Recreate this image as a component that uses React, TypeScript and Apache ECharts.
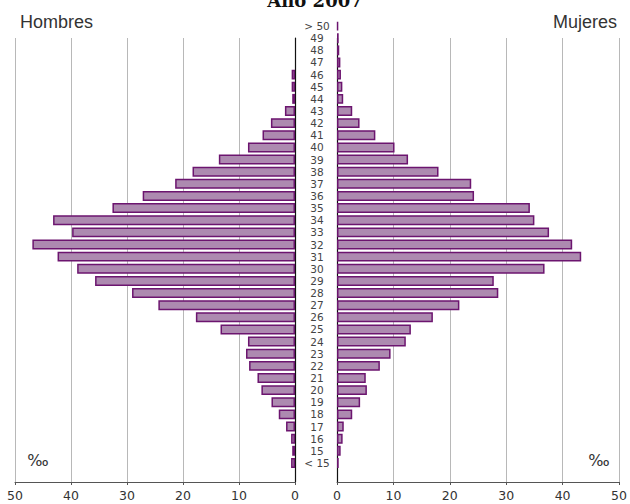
import React, { useEffect, useRef } from "react";
import * as echarts from "echarts";

const ages = ["< 15", "15", "16", "17", "18", "19", "20", "21", "22", "23", "24", "25", "26", "27", "28", "29", "30", "31", "32", "33", "34", "35", "36", "37", "38", "39", "40", "41", "42", "43", "44", "45", "46", "47", "48", "49", "> 50"];

const hombres = [0.7, 0.5, 0.7, 1.6, 2.9, 4.2, 6.0, 6.7, 8.2, 8.75, 8.4, 13.3, 17.7, 24.4, 29.1, 35.7, 38.9, 42.4, 46.9, 39.8, 43.2, 32.6, 27.2, 21.4, 18.3, 13.6, 8.4, 5.8, 4.3, 1.8, 0.5, 0.6, 0.6, null, null, null, null];

const mujeres = [0.3, 0.65, 1.0, 1.2, 2.7, 4.1, 5.3, 5.1, 7.6, 9.5, 12.2, 13.1, 17.0, 21.7, 28.6, 27.8, 36.8, 43.3, 41.7, 37.6, 35.0, 34.2, 24.3, 23.8, 18.0, 12.6, 10.2, 6.8, 4.0, 2.7, 1.1, 0.95, 0.7, 0.6, 0.4, 0.3, 0.2];

const FILL = "#ad8ab0";
const BORDER = "#6c156f";

export default function App() {
  const ref = useRef<HTMLDivElement>(null);
  useEffect(() => {
    const chart = echarts.init(ref.current!, null, { renderer: "svg" });
    const lineAxis = (gridIndex: number, inverse: boolean) => ({
      type: "value",
      gridIndex,
      min: 0,
      max: 50,
      interval: 10,
      inverse,
      axisLine: { show: true, onZero: false, lineStyle: { color: "#555", width: 1 } },
      axisTick: { show: true, length: 3, lineStyle: { color: "#555" } },
      axisLabel: { color: "#333", fontSize: 12.5, fontFamily: "DejaVu Sans", margin: 7 },
      splitLine: { show: true, lineStyle: { color: "#b8b8b8", width: 1 } },
    });
    const option: any = {
      animation: false,
      backgroundColor: "#ffffff",
      grid: [
        { left: 15, right: 335, top: 20, bottom: 35 },
        { left: 337, right: 11, top: 20, bottom: 35 },
        { left: 15, right: 335, top: 38, bottom: 22 },
        { left: 337, right: 11, top: 38, bottom: 22 },
      ],
      xAxis: [
        { type: "value", gridIndex: 0, min: 0, max: 50, inverse: true, show: false },
        { type: "value", gridIndex: 1, min: 0, max: 50, show: false },
        lineAxis(2, true),
        lineAxis(3, false),
      ],
      yAxis: [
        {
          type: "category",
          gridIndex: 0,
          data: ages,
          position: "right",
          axisLine: { show: false },
          axisTick: { show: false },
          axisLabel: { interval: 0, margin: 22, align: "center", color: "#444", fontSize: 10.5, fontFamily: "DejaVu Sans", padding: [3, 0, 0, 0] },
        },
        { type: "category", gridIndex: 1, data: ages, show: false },
        {
          type: "value",
          gridIndex: 2,
          position: "right",
          axisLine: { show: true, lineStyle: { color: "#111", width: 1.2 } },
          axisTick: { show: false },
          axisLabel: { show: false },
          splitLine: { show: false },
        },
        {
          type: "value",
          gridIndex: 3,
          position: "left",
          axisLine: { show: true, lineStyle: { color: "#111", width: 1.2 } },
          axisTick: { show: false },
          axisLabel: { show: false },
          splitLine: { show: false },
        },
      ],
      series: [
        {
          type: "bar",
          name: "Hombres",
          xAxisIndex: 0,
          yAxisIndex: 0,
          data: hombres,
          barCategoryGap: "18%",
          z: 5,
          itemStyle: { color: FILL, borderColor: BORDER, borderWidth: 1.5 },
        },
        {
          type: "bar",
          name: "Mujeres",
          xAxisIndex: 1,
          yAxisIndex: 1,
          data: mujeres,
          barCategoryGap: "18%",
          z: 5,
          itemStyle: { color: FILL, borderColor: BORDER, borderWidth: 1.5 },
        },
      ],
      graphic: [
        {
          type: "text",
          style: { text: "Año 2007", x: 315, y: 9, align: "center", verticalAlign: "bottom", fontFamily: "DejaVu Serif", fontWeight: "bold", fontSize: 18, fill: "#111" },
        },
        {
          type: "text",
          style: { text: "Hombres", x: 20, y: 22, align: "left", verticalAlign: "middle", fontFamily: "Liberation Sans Narrow, Liberation Sans", fontSize: 18, fill: "#333" },
        },
        {
          type: "text",
          style: { text: "Mujeres", x: 617, y: 22, align: "right", verticalAlign: "middle", fontFamily: "Liberation Sans Narrow, Liberation Sans", fontSize: 18, fill: "#333" },
        },
        {
          type: "text",
          style: { text: "‰", x: 38, y: 460, align: "center", verticalAlign: "middle", fontFamily: "DejaVu Sans", fontSize: 16, fill: "#333" },
        },
        {
          type: "text",
          style: { text: "‰", x: 599, y: 460, align: "center", verticalAlign: "middle", fontFamily: "DejaVu Sans", fontSize: 16, fill: "#333" },
        },
      ],
    };
    chart.setOption(option);
    return () => chart.dispose();
  }, []);
  return <div ref={ref} style={{ position: "fixed", left: 0, top: 0, width: 630, height: 504 }} />;
}
